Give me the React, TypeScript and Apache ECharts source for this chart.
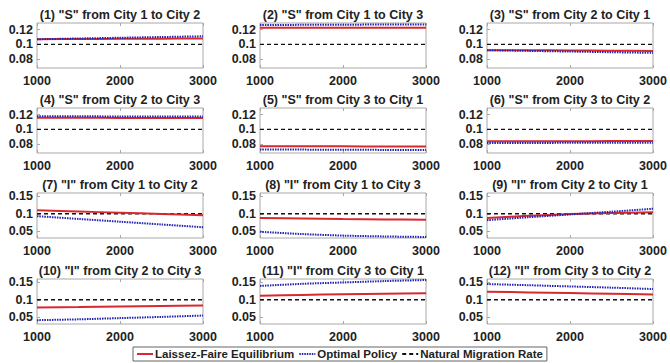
import React, { useEffect, useRef } from "react";
import * as echarts from "echarts";

const years = [1000, 1500, 2000, 2500, 3000];
const titles = [
  '(1) "S" from City 1 to City 2',
  '(2) "S" from City 1 to City 3',
  '(3) "S" from City 2 to City 1',
  '(4) "S" from City 2 to City 3',
  '(5) "S" from City 3 to City 1',
  '(6) "S" from City 3 to City 2',
  '(7) "I" from City 1 to City 2',
  '(8) "I" from City 1 to City 3',
  '(9) "I" from City 2 to City 1',
  '(10) "I" from City 2 to City 3',
  '(11) "I" from City 3 to City 1',
  '(12) "I" from City 3 to City 2',
];
const laissezFaire = [
  [0.107, 0.1073, 0.1076, 0.1078, 0.108],
  [0.1225, 0.1225, 0.1226, 0.1226, 0.1226],
  [0.0922, 0.092, 0.0918, 0.0915, 0.0912],
  [0.1158, 0.1157, 0.1156, 0.1155, 0.1154],
  [0.0772, 0.0771, 0.077, 0.0769, 0.0768],
  [0.0838, 0.0839, 0.084, 0.0841, 0.0842],
  [0.11, 0.1065, 0.103, 0.0995, 0.096],
  [0.088, 0.0865, 0.085, 0.0838, 0.0826],
  [0.088, 0.094, 0.099, 0.102, 0.1046],
  [0.0777, 0.079, 0.0805, 0.082, 0.0834],
  [0.1116, 0.114, 0.116, 0.1175, 0.119],
  [0.1233, 0.1213, 0.1194, 0.1175, 0.1155],
];
const optimal = [
  [0.107, 0.108, 0.109, 0.11, 0.111],
  [0.1262, 0.1265, 0.1267, 0.1269, 0.127],
  [0.0922, 0.0912, 0.0903, 0.0894, 0.0885],
  [0.1178, 0.1177, 0.1176, 0.1175, 0.1174],
  [0.0728, 0.0726, 0.0724, 0.0722, 0.072],
  [0.0815, 0.0816, 0.0818, 0.0819, 0.082],
  [0.093, 0.085, 0.077, 0.069, 0.061],
  [0.048, 0.0415, 0.037, 0.0345, 0.033],
  [0.0815, 0.09, 0.098, 0.106, 0.1145],
  [0.041, 0.0435, 0.047, 0.0505, 0.0545],
  [0.14, 0.146, 0.15, 0.154, 0.157],
  [0.1455, 0.142, 0.1385, 0.135, 0.131],
];
const naturalRate = [0.1, 0.1, 0.1, 0.1, 0.1];
const xTicks = [1000, 2000, 3000];
const yTicksS = [0.08, 0.1, 0.12];
const yTicksI = [0.05, 0.1, 0.15];
const seriesNames = ["Laissez-Faire Equilibrium", "Optimal Policy", "Natural Migration Rate"];

const FONT = "'Liberation Sans', Arial, sans-serif";

export default function App() {
  const ref = useRef<HTMLDivElement>(null);
  useEffect(() => {
    if (!ref.current) return;
    const chart = echarts.init(ref.current, undefined, { renderer: "svg" });
    const lefts = [37, 260, 487];
    const tops = [23, 108, 193, 279];
    const W = 166;
    const H = 45;
    const grids: any[] = [];
    const xAxes: any[] = [];
    const yAxes: any[] = [];
    const series: any[] = [];
    const titleArr: any[] = [];
    for (let i = 0; i < 12; i++) {
      const r = Math.floor(i / 3);
      const c = i % 3;
      const isS = r < 2;
      grids.push({
        left: lefts[c],
        top: tops[r],
        width: W,
        height: H,
        show: true,
        borderColor: "#a8a8a8",
        borderWidth: 1,
        backgroundColor: "#fff",
      });
      titleArr.push({
        text: titles[i],
        left: lefts[c] + W / 2,
        top: tops[r] - 14.5,
        textAlign: "center",
        padding: 0,
        textStyle: { fontFamily: FONT, fontWeight: "bold", fontSize: 12.5, color: "#222" },
      });
      xAxes.push({
        type: "value",
        gridIndex: i,
        min: 1000,
        max: 3000,
        interval: 1000,
        axisLine: { show: false },
        axisTick: { show: true, inside: true, length: 3, lineStyle: { color: "#a8a8a8" }, customValues: xTicks },
        splitLine: { show: false },
        axisLabel: {
          customValues: xTicks,
          margin: 6,
          fontFamily: FONT,
          fontWeight: "bold",
          fontSize: 12.5,
          color: "#222",
          formatter: (v: number) => String(v),
        },
      });
      xAxes.push({
        type: "value",
        gridIndex: i,
        position: "top",
        min: 1000,
        max: 3000,
        interval: 1000,
        axisLine: { show: false },
        axisTick: { show: true, inside: true, length: 3, lineStyle: { color: "#a8a8a8" } },
        splitLine: { show: false },
        axisLabel: { show: false },
      });
      const yt = isS ? yTicksS : yTicksI;
      yAxes.push({
        type: "value",
        gridIndex: i,
        min: isS ? 0.068 : 0.03,
        max: isS ? 0.129 : 0.16,
        axisLine: { show: false },
        axisTick: { show: true, inside: true, length: 3, lineStyle: { color: "#a8a8a8" }, customValues: yt },
        splitLine: { show: false },
        axisLabel: {
          customValues: yt,
          margin: 4,
          fontFamily: FONT,
          fontWeight: "bold",
          fontSize: 12.5,
          color: "#222",
          formatter: (v: number) => String(Math.round(v * 100) / 100),
        },
      });
      const mk = (vals: number[]) => years.map((x, k) => [x, vals[k]]);
      series.push({
        name: seriesNames[2],
        type: "line",
        xAxisIndex: i * 2,
        yAxisIndex: i,
        data: mk(naturalRate),
        symbol: "none",
        lineStyle: { color: "#111", width: 1.3, type: [4, 3] },
        itemStyle: { color: "#111" },
        z: 2,
      });
      series.push({
        name: seriesNames[0],
        type: "line",
        xAxisIndex: i * 2,
        yAxisIndex: i,
        data: mk(laissezFaire[i]),
        symbol: "none",
        smooth: 0.3,
        lineStyle: { color: "#d62a2e", width: 2 },
        itemStyle: { color: "#d62a2e" },
        z: 3,
      });
      series.push({
        name: seriesNames[1],
        type: "line",
        xAxisIndex: i * 2,
        yAxisIndex: i,
        data: mk(optimal[i]),
        symbol: "none",
        smooth: 0.3,
        lineStyle: { color: "#2323b4", width: 2, type: [1.5, 1] },
        itemStyle: { color: "#2323b4" },
        z: 4,
      });
    }
    chart.setOption({
      animation: false,
      backgroundColor: "#fff",
      title: titleArr,
      grid: grids,
      xAxis: xAxes,
      yAxis: yAxes,
      series,
      legend: {
        data: seriesNames,
        left: 133,
        top: 347,
        orient: "horizontal",
        itemWidth: 16,
        itemHeight: 10,
        itemGap: 4,
        padding: [1, 4, 1, 3],
        borderColor: "#666",
        borderWidth: 1,
        backgroundColor: "#fff",
        itemStyle: { opacity: 0, borderWidth: 0 },
        textStyle: { fontFamily: FONT, fontWeight: "bold", fontSize: 11.5, color: "#222", padding: [0, 0, 0, -3] },
        selectedMode: false,
      },
    });
    return () => chart.dispose();
  }, []);
  return (
    <div
      ref={ref}
      style={{ position: "fixed", left: 0, top: 0, width: 670, height: 363 }}
    />
  );
}
